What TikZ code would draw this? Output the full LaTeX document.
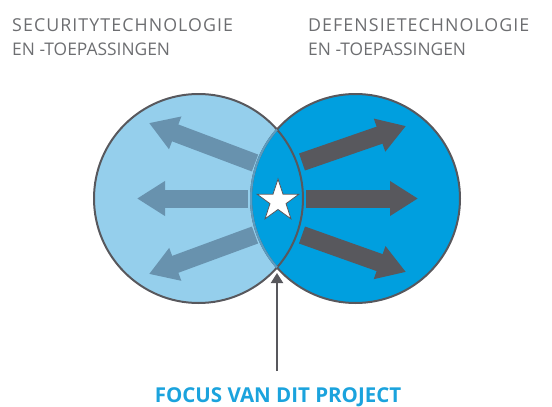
\documentclass[tikz,border=0pt]{standalone}
\usepackage{fontspec}
\setmainfont{Open Sans}
\usetikzlibrary{arrows.meta,shapes.geometric}
\definecolor{lightfill}{HTML}{95CFEC}
\definecolor{darkfill}{HTML}{009FDF}
\definecolor{rim}{HTML}{58585D}
\definecolor{lensrim}{HTML}{5C9CC0}
\definecolor{leftarrow}{HTML}{6892AE}
\definecolor{rightarrow}{HTML}{58585D}
\definecolor{labelgray}{HTML}{6D6E71}
\definecolor{focusblue}{HTML}{1BA3DD}
\tikzset{
  bigarrow/.style={line width=18pt,-{Triangle[width=33pt,length=28pt]}},
  larrow/.style={bigarrow,draw=leftarrow},
  rarrow/.style={bigarrow,draw=rightarrow},
  label/.style={anchor=base west,text=labelgray,font=\fontsize{17.4}{25}\selectfont,inner sep=0pt},
  widelabel/.style={label,font=\fontsize{17.8}{25}\selectfont\addfontfeatures{LetterSpace=6}},
}
\begin{document}
\begin{tikzpicture}[x=1pt,y=-1pt]
\useasboundingbox (0,0) rectangle (552,407);
% circles
\node[circle,minimum size=209pt,inner sep=0pt,fill=lightfill] (lc) at (198.5,198.5) {};
\node[circle,minimum size=209pt,inner sep=0pt,fill=darkfill] (rc) at (355.5,198.5) {};
\draw[rim,line width=2pt] (lc.center) circle (104.5);
\fill[darkfill] (rc.center) circle (104.5);
\draw[rim,line width=2pt] (rc.center) circle (104.5);
\begin{scope}
  \clip (rc.center) circle (104.5);
  \draw[rim,line width=2pt] (lc.center) circle (104.5);
\end{scope}
\begin{scope}
  \clip (lc.center) circle (104.5);
  \draw[lensrim,line width=2pt] (rc.center) circle (104.5);
\end{scope}
% arrow end points
\coordinate (lt1) at (255,163); \coordinate (lh1) at (149,123);
\coordinate (lt2) at (248,198.5); \coordinate (lh2) at (137,198.5);
\coordinate (lt3) at (255,235); \coordinate (lh3) at (149,274);
\coordinate (rt1) at (302,162); \coordinate (rh1) at (406,126);
\coordinate (rt2) at (306,198.5); \coordinate (rh2) at (418,198.5);
\coordinate (rt3) at (302,235); \coordinate (rh3) at (406,272);
\draw[larrow] (lt1) -- (lh1);
\draw[larrow] (lt2) -- (lh2);
\draw[larrow] (lt3) -- (lh3);
\draw[rarrow] (rt1) -- (rh1);
\draw[rarrow] (rt2) -- (rh2);
\draw[rarrow] (rt3) -- (rh3);
% star
\node[star,star points=5,star point ratio=2.6,minimum size=44pt,inner sep=0pt,fill=white,draw=rim,line width=0.8pt] (st) at (278,201) {};
% focus arrow
\coordinate (ftail) at (277,371);
\coordinate (fhead) at (277,273);
\draw[rim,line width=2pt,-{Triangle[width=12pt,length=10pt]}] (ftail) -- (fhead);
% labels
\node[widelabel] (t1a) at (12,31) {SECURITYTECHNOLOGIE};
\node[label] (t1b) at (12,55) {EN -TOEPASSINGEN};
\node[widelabel] (t2a) at (308,31) {DEFENSIETECHNOLOGIE};
\node[label] (t2b) at (308,55) {EN -TOEPASSINGEN};
\node[anchor=base,text=focusblue,font=\bfseries\fontsize{20.5}{24}\selectfont,inner sep=0pt] (focus) at (278,402) {FOCUS VAN DIT PROJECT};
\end{tikzpicture}
\end{document}
